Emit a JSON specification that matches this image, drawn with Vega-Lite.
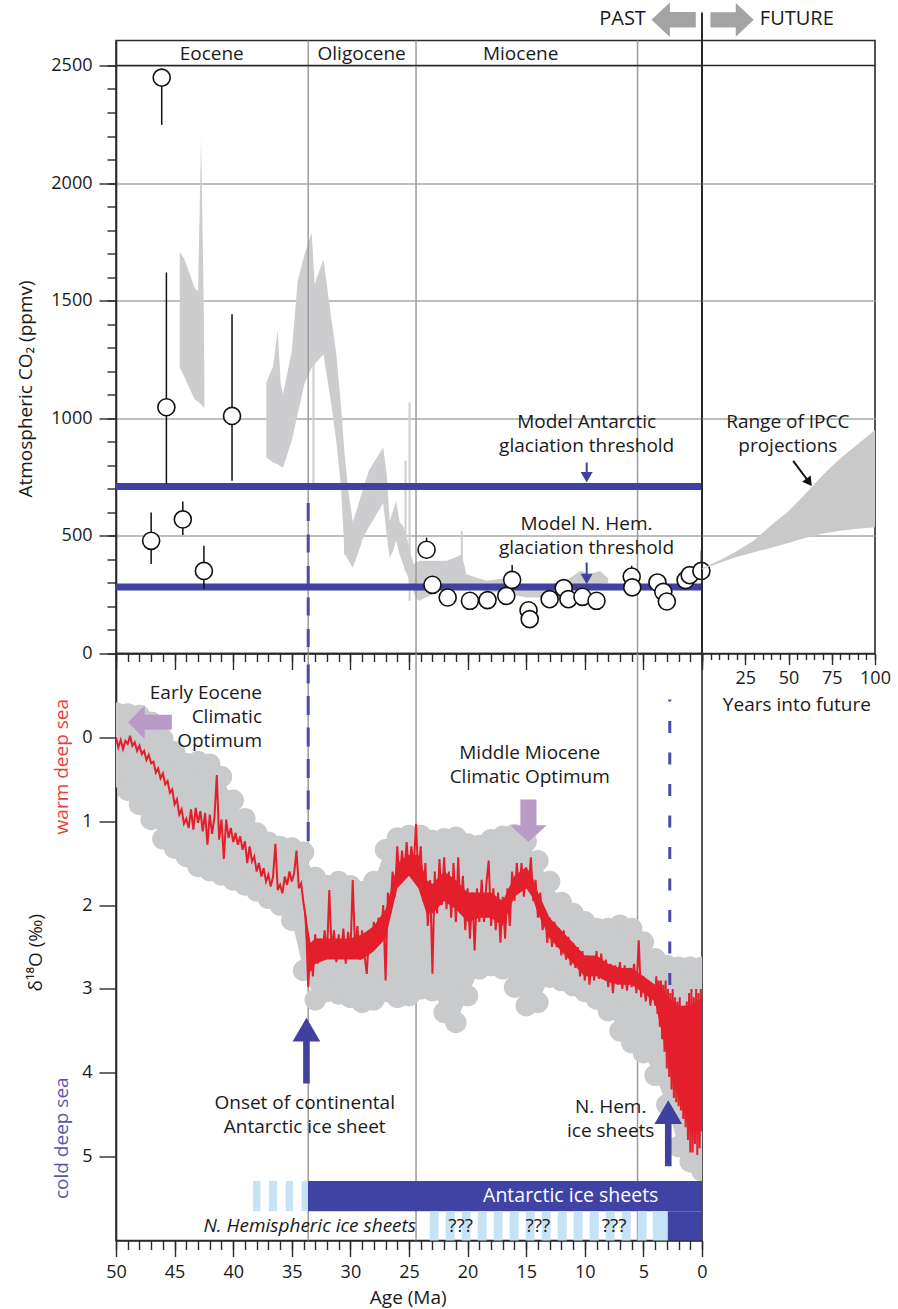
{
"$schema": "https://vega.github.io/schema/vega-lite/v6.json",
"background": "white",
"padding": {"left": 15, "top": 1.5, "right": 5, "bottom": 5},
"config": {
 "font": "Open Sans",
 "view": {"stroke": "#2a2a2a", "strokeWidth": 1.6},
 "axis": {"grid": false, "labelFont": "Open Sans", "labelFontSize": 18, "labelColor": "#1a1a1a", "titleFont": "Open Sans", "titleFontSize": 19, "titleFontWeight": "normal", "titleColor": "#1a1a1a", "domainColor": "#2a2a2a", "domainWidth": 1.6, "tickColor": "#2a2a2a", "tickWidth": 1.4, "labelFlush": false, "labelOverlap": false},
 "text": {"font": "Open Sans", "fontSize": 19, "color": "#1a1a1a"}
},
"datasets": {
 "epochs": [{"age": 33.6}, {"age": 24.4}, {"age": 5.5}],
 "co2band": [
  {"seg":"a","age":44.56,"lo":1215,"hi":1707},{"seg":"a","age":44.2,"lo":1180,"hi":1680},{"seg":"a","age":43.75,"lo":1130,"hi":1620},{"seg":"a","age":43.3,"lo":1082,"hi":1555},{"seg":"a","age":43.0,"lo":1070,"hi":1541},{"seg":"a","age":42.74,"lo":1060,"hi":2193},{"seg":"a","age":42.5,"lo":1045,"hi":1443},{"seg":"a","age":42.45,"lo":1045,"hi":1060},
  {"seg":"b","age":37.17,"lo":833,"hi":1152},{"seg":"b","age":36.6,"lo":812,"hi":1220},{"seg":"b","age":36.2,"lo":805,"hi":1374},{"seg":"b","age":35.95,"lo":795,"hi":1150},{"seg":"b","age":35.75,"lo":790,"hi":1102},{"seg":"b","age":35.0,"lo":904,"hi":1286},{"seg":"b","age":34.5,"lo":1017,"hi":1584},{"seg":"b","age":33.9,"lo":1150,"hi":1700},{"seg":"b","age":33.3,"lo":1215,"hi":1789},{"seg":"b","age":33.05,"lo":1230,"hi":1570},{"seg":"b","age":32.3,"lo":1272,"hi":1676},{"seg":"b","age":31.6,"lo":1050,"hi":1414},{"seg":"b","age":31.2,"lo":900,"hi":1272},{"seg":"b","age":30.8,"lo":705,"hi":1050},{"seg":"b","age":30.5,"lo":424,"hi":849},{"seg":"b","age":30.2,"lo":400,"hi":700},{"seg":"b","age":29.8,"lo":365,"hi":560},{"seg":"b","age":29.4,"lo":420,"hi":620},{"seg":"b","age":28.9,"lo":493,"hi":705},{"seg":"b","age":28.4,"lo":540,"hi":780},{"seg":"b","age":27.9,"lo":580,"hi":820},{"seg":"b","age":27.2,"lo":640,"hi":876},{"seg":"b","age":26.9,"lo":500,"hi":760},{"seg":"b","age":26.65,"lo":408,"hi":564},{"seg":"b","age":26.4,"lo":430,"hi":600},{"seg":"b","age":26.1,"lo":480,"hi":649},{"seg":"b","age":25.8,"lo":420,"hi":560},{"seg":"b","age":25.5,"lo":380,"hi":540},{"seg":"b","age":25.2,"lo":340,"hi":500},{"seg":"b","age":24.9,"lo":300,"hi":430},{"seg":"b","age":24.6,"lo":260,"hi":380},{"seg":"b","age":24.3,"lo":230,"hi":390},{"seg":"b","age":24.1,"lo":224,"hi":394},{"seg":"b","age":23.0,"lo":252,"hi":394},{"seg":"b","age":21.8,"lo":280,"hi":394},{"seg":"b","age":20.5,"lo":295,"hi":420},{"seg":"b","age":20.1,"lo":280,"hi":337},{"seg":"b","age":18.4,"lo":266,"hi":309},{"seg":"b","age":16.4,"lo":252,"hi":323},{"seg":"b","age":15.0,"lo":238,"hi":280},{"seg":"b","age":13.6,"lo":238,"hi":288},{"seg":"b","age":11.6,"lo":259,"hi":309},{"seg":"b","age":10.4,"lo":280,"hi":351},{"seg":"b","age":9.6,"lo":295,"hi":337},{"seg":"b","age":8.7,"lo":295,"hi":351},{"seg":"b","age":8.0,"lo":300,"hi":320}
 ],
 "co2spk": [{"age":24.95,"lo":224,"hi":1067},{"age":25.3,"lo":350,"hi":820},{"age":33.15,"lo":705,"hi":1230},{"age":20.5,"lo":295,"hi":521},{"age":30.45,"lo":420,"hi":798}],
 "co2pts": [
  {"age":47.0,"co2":479,"lo":380,"hi":599},{"age":46.1,"co2":2448,"lo":2247,"hi":2448},{"age":45.7,"co2":1047,"lo":720,"hi":1620},{"age":44.3,"co2":570,"lo":504,"hi":646},{"age":42.5,"co2":351,"lo":274,"hi":458},{"age":40.1,"co2":1010,"lo":734,"hi":1442},
  {"age":23.5,"co2":441,"lo":441,"hi":493},{"age":23.0,"co2":292,"lo":292,"hi":292},{"age":21.7,"co2":238,"lo":238,"hi":238},{"age":19.8,"co2":224,"lo":224,"hi":224},{"age":18.3,"co2":227,"lo":227,"hi":227},{"age":16.7,"co2":245,"lo":245,"hi":245},{"age":16.2,"co2":313,"lo":313,"hi":376},{"age":14.8,"co2":184,"lo":184,"hi":184},{"age":14.7,"co2":146,"lo":146,"hi":146},{"age":13.0,"co2":231,"lo":231,"hi":231},{"age":11.8,"co2":278,"lo":278,"hi":278},{"age":11.4,"co2":231,"lo":231,"hi":231},{"age":10.2,"co2":241,"lo":241,"hi":241},{"age":9.0,"co2":224,"lo":224,"hi":224},{"age":6.0,"co2":327,"lo":327,"hi":373},{"age":5.95,"co2":281,"lo":281,"hi":281},{"age":3.8,"co2":302,"lo":302,"hi":302},{"age":3.3,"co2":262,"lo":262,"hi":262},{"age":3.0,"co2":221,"lo":221,"hi":221},{"age":1.4,"co2":312,"lo":290,"hi":312},{"age":1.05,"co2":333,"lo":333,"hi":333},{"age":0.05,"co2":351,"lo":351,"hi":437}
 ],
 "topText": [
  {"t":"Eocene","age":41.83,"co2":2549},{"t":"Oligocene","age":29.04,"co2":2549},{"t":"Miocene","age":15.47,"co2":2549},
  {"t":"Model Antarctic\nglaciation threshold","age":9.84,"co2":986},{"t":"Model N. Hem.\nglaciation threshold","age":9.86,"co2":550}
 ],
 "ipcc": [{"yr":0,"lo":358,"hi":362},{"yr":10,"lo":385,"hi":395},{"yr":20,"lo":410,"hi":435},{"yr":30,"lo":430,"hi":480},{"yr":40,"lo":450,"hi":545},{"yr":50,"lo":470,"hi":605},{"yr":60,"lo":492,"hi":680},{"yr":70,"lo":510,"hi":760},{"yr":80,"lo":522,"hi":830},{"yr":90,"lo":530,"hi":890},{"yr":100,"lo":537,"hi":950}],
 "env": [
  {"a":50,"t":-0.29,"b":0.47},{"a":49,"t":-0.28,"b":0.63},{"a":48,"t":-0.26,"b":0.80},{"a":47,"t":-0.18,"b":0.98},{"a":46,"t":0.02,"b":1.21},{"a":45,"t":0.17,"b":1.32},{"a":44,"t":0.31,"b":1.42},{"a":43,"t":0.29,"b":1.54},{"a":42,"t":0.32,"b":1.59},{"a":41,"t":0.47,"b":1.64},{"a":40,"t":0.75,"b":1.70},{"a":39,"t":0.97,"b":1.76},{"a":38,"t":1.14,"b":1.83},{"a":37,"t":1.25,"b":1.92},{"a":36,"t":1.30,"b":2.00},{"a":35,"t":1.32,"b":2.18},{"a":34,"t":1.37,"b":2.78},{"a":33,"t":1.67,"b":3.13},{"a":32,"t":1.77,"b":3.03},{"a":31,"t":1.72,"b":3.06},{"a":30,"t":1.77,"b":3.10},{"a":29,"t":1.84,"b":3.16},{"a":28,"t":1.72,"b":3.13},{"a":27,"t":1.34,"b":3.03},{"a":26,"t":1.20,"b":3.10},{"a":25,"t":1.17,"b":3.08},{"a":24,"t":1.17,"b":3.00},{"a":23,"t":1.23,"b":3.02},{"a":22,"t":1.21,"b":3.28},{"a":21,"t":1.19,"b":3.40},{"a":20,"t":1.27,"b":3.08},{"a":19,"t":1.29,"b":2.76},{"a":18,"t":1.22,"b":2.72},{"a":17,"t":1.18,"b":2.76},{"a":16,"t":1.16,"b":2.98},{"a":15,"t":1.24,"b":3.20},{"a":14,"t":1.47,"b":3.16},{"a":13,"t":1.72,"b":2.86},{"a":12,"t":1.97,"b":2.90},{"a":11,"t":2.10,"b":2.96},{"a":10,"t":2.20,"b":3.03},{"a":9,"t":2.28,"b":3.12},{"a":8,"t":2.28,"b":3.26},{"a":7,"t":2.24,"b":3.50},{"a":6,"t":2.28,"b":3.64},{"a":5,"t":2.44,"b":3.76},{"a":4,"t":2.64,"b":4.03},{"a":3,"t":2.72,"b":4.38},{"a":2,"t":2.74,"b":4.88},{"a":1,"t":2.74,"b":5.06},{"a":0,"t":2.74,"b":5.17}
 ],
 "redcore": [
  {"a":34.0,"lo":1.92,"hi":2.0},{"a":33.7,"lo":2.2,"hi":2.6},{"a":33.4,"lo":2.45,"hi":2.8},{"a":33.0,"lo":2.4,"hi":2.7},{"a":32.0,"lo":2.4,"hi":2.65},{"a":31.0,"lo":2.4,"hi":2.65},{"a":30.0,"lo":2.4,"hi":2.65},{"a":29.0,"lo":2.35,"hi":2.65},{"a":28.0,"lo":2.25,"hi":2.55},{"a":27.0,"lo":2.05,"hi":2.4},{"a":26.5,"lo":1.8,"hi":2.1},{"a":26.0,"lo":1.5,"hi":1.8},{"a":25.0,"lo":1.4,"hi":1.65},{"a":24.2,"lo":1.4,"hi":1.8},{"a":23.5,"lo":1.7,"hi":2.1},{"a":23.0,"lo":1.75,"hi":2.1},{"a":22.0,"lo":1.6,"hi":1.95},{"a":21.0,"lo":1.7,"hi":2.05},{"a":20.0,"lo":1.85,"hi":2.2},{"a":19.0,"lo":1.85,"hi":2.15},{"a":18.0,"lo":1.85,"hi":2.15},{"a":17.0,"lo":1.95,"hi":2.25},{"a":16.0,"lo":1.65,"hi":1.9},{"a":15.0,"lo":1.55,"hi":1.8},{"a":14.5,"lo":1.65,"hi":1.9},{"a":14.0,"lo":1.85,"hi":2.1},{"a":13.0,"lo":2.15,"hi":2.4},{"a":12.0,"lo":2.3,"hi":2.55},{"a":11.0,"lo":2.45,"hi":2.7},{"a":10.0,"lo":2.6,"hi":2.85},{"a":9.0,"lo":2.6,"hi":2.85},{"a":8.0,"lo":2.7,"hi":2.92},{"a":7.0,"lo":2.75,"hi":2.95},{"a":6.0,"lo":2.75,"hi":2.95},{"a":5.0,"lo":2.85,"hi":3.05},{"a":4.0,"lo":2.95,"hi":3.15},{"a":3.0,"lo":3.1,"hi":3.8},{"a":2.0,"lo":3.2,"hi":4.3},{"a":1.0,"lo":3.2,"hi":4.7},{"a":0.0,"lo":3.1,"hi":4.7}
 ],
 "d18": [
  {"a":50.0,"d":0.0},{"a":49.8,"d":0.12},{"a":49.6,"d":0.03},{"a":49.4,"d":0.14},{"a":49.2,"d":0.04},{"a":49.0,"d":0.08},{"a":48.8,"d":-0.02},{"a":48.6,"d":0.1},{"a":48.4,"d":0.06},{"a":48.2,"d":0.16},{"a":48.0,"d":0.1},{"a":47.8,"d":0.2},{"a":47.6,"d":0.16},{"a":47.4,"d":0.27},{"a":47.2,"d":0.21},{"a":47.0,"d":0.31},{"a":46.8,"d":0.29},{"a":46.6,"d":0.42},{"a":46.4,"d":0.37},{"a":46.2,"d":0.49},{"a":46.0,"d":0.43},{"a":45.8,"d":0.56},{"a":45.6,"d":0.52},{"a":45.4,"d":0.66},{"a":45.2,"d":0.62},{"a":45.0,"d":0.8},{"a":44.8,"d":0.74},{"a":44.6,"d":0.92},{"a":44.4,"d":0.86},{"a":44.2,"d":1.03},{"a":44.0,"d":0.97},{"a":43.8,"d":1.08},{"a":43.6,"d":0.86},{"a":43.4,"d":1.1},{"a":43.2,"d":0.84},{"a":43.0,"d":1.02},{"a":42.8,"d":0.88},{"a":42.6,"d":1.12},{"a":42.4,"d":0.9},{"a":42.2,"d":1.28},{"a":42.0,"d":0.92},{"a":41.8,"d":1.15},{"a":41.6,"d":0.95},{"a":41.4,"d":0.45},{"a":41.2,"d":1.22},{"a":41.0,"d":0.98},{"a":40.8,"d":1.45},{"a":40.6,"d":0.98},{"a":40.4,"d":1.2},{"a":40.2,"d":1.08},{"a":40.0,"d":1.25},{"a":39.8,"d":1.14},{"a":39.6,"d":1.28},{"a":39.4,"d":1.18},{"a":39.2,"d":1.34},{"a":39.0,"d":1.24},{"a":38.8,"d":1.5},{"a":38.6,"d":1.3},{"a":38.4,"d":1.48},{"a":38.2,"d":1.42},{"a":38.0,"d":1.6},{"a":37.8,"d":1.5},{"a":37.6,"d":1.66},{"a":37.4,"d":1.56},{"a":37.2,"d":1.72},{"a":37.0,"d":1.64},{"a":36.8,"d":1.78},{"a":36.6,"d":1.66},{"a":36.4,"d":1.27},{"a":36.2,"d":1.82},{"a":36.0,"d":1.76},{"a":35.8,"d":1.86},{"a":35.6,"d":1.66},{"a":35.4,"d":1.76},{"a":35.2,"d":1.6},{"a":35.0,"d":1.72},{"a":34.8,"d":1.62},{"a":34.6,"d":1.35},{"a":34.4,"d":1.8},{"a":34.2,"d":1.74},{"a":34.0,"d":1.98},{"a":33.8,"d":2.15},{"a":33.6,"d":2.98},{"a":33.4,"d":2.45},{"a":33.2,"d":2.85},{"a":33.0,"d":2.35},{"a":32.8,"d":2.7},{"a":32.6,"d":2.4},{"a":32.4,"d":2.62},{"a":32.2,"d":2.3},{"a":32.0,"d":2.6},{"a":31.8,"d":1.82},{"a":31.6,"d":2.55},{"a":31.4,"d":2.3},{"a":31.2,"d":2.68},{"a":31.0,"d":2.35},{"a":30.8,"d":2.62},{"a":30.6,"d":2.28},{"a":30.4,"d":2.7},{"a":30.2,"d":2.32},{"a":30.0,"d":2.58},{"a":29.8,"d":1.7},{"a":29.6,"d":2.55},{"a":29.4,"d":2.25},{"a":29.2,"d":2.65},{"a":29.0,"d":2.3},{"a":28.8,"d":2.6},{"a":28.6,"d":2.82},{"a":28.4,"d":2.3},{"a":28.2,"d":2.55},{"a":28.0,"d":2.2},{"a":27.8,"d":2.5},{"a":27.6,"d":2.15},{"a":27.4,"d":2.45},{"a":27.2,"d":2.0},{"a":27.0,"d":2.9},{"a":26.8,"d":1.85},{"a":26.6,"d":2.1},{"a":26.4,"d":1.6},{"a":26.2,"d":1.9},{"a":26.0,"d":1.3},{"a":25.8,"d":1.75},{"a":25.6,"d":1.35},{"a":25.4,"d":1.6},{"a":25.2,"d":1.25},{"a":25.0,"d":1.65},{"a":24.8,"d":1.3},{"a":24.6,"d":1.55},{"a":24.4,"d":1.03},{"a":24.2,"d":1.7},{"a":24.0,"d":1.3},{"a":23.8,"d":1.95},{"a":23.6,"d":1.5},{"a":23.4,"d":2.25},{"a":23.2,"d":1.7},{"a":23.0,"d":2.82},{"a":22.8,"d":1.6},{"a":22.6,"d":2.1},{"a":22.4,"d":1.45},{"a":22.2,"d":2.0},{"a":22.0,"d":1.43},{"a":21.8,"d":2.05},{"a":21.6,"d":1.6},{"a":21.4,"d":2.15},{"a":21.2,"d":1.5},{"a":21.0,"d":2.2},{"a":20.8,"d":1.43},{"a":20.6,"d":2.1},{"a":20.4,"d":1.65},{"a":20.2,"d":2.3},{"a":20.0,"d":1.8},{"a":19.8,"d":2.4},{"a":19.6,"d":1.85},{"a":19.4,"d":2.54},{"a":19.2,"d":1.8},{"a":19.0,"d":2.2},{"a":18.8,"d":1.7},{"a":18.6,"d":2.2},{"a":18.4,"d":1.75},{"a":18.2,"d":1.47},{"a":18.0,"d":2.25},{"a":17.8,"d":1.8},{"a":17.6,"d":2.3},{"a":17.4,"d":1.85},{"a":17.2,"d":2.45},{"a":17.0,"d":1.9},{"a":16.8,"d":2.4},{"a":16.6,"d":1.8},{"a":16.4,"d":2.25},{"a":16.2,"d":1.6},{"a":16.0,"d":1.95},{"a":15.8,"d":1.5},{"a":15.6,"d":1.85},{"a":15.4,"d":1.5},{"a":15.2,"d":1.9},{"a":15.0,"d":1.55},{"a":14.8,"d":1.8},{"a":14.6,"d":1.43},{"a":14.4,"d":1.95},{"a":14.2,"d":1.7},{"a":14.0,"d":2.15},{"a":13.8,"d":1.85},{"a":13.6,"d":2.3},{"a":13.4,"d":2.05},{"a":13.2,"d":2.45},{"a":13.0,"d":2.15},{"a":12.8,"d":2.5},{"a":12.6,"d":2.2},{"a":12.4,"d":2.5},{"a":12.2,"d":2.28},{"a":12.0,"d":2.6},{"a":11.8,"d":2.3},{"a":11.6,"d":2.65},{"a":11.4,"d":2.38},{"a":11.2,"d":2.72},{"a":11.0,"d":2.45},{"a":10.8,"d":2.75},{"a":10.6,"d":2.5},{"a":10.4,"d":2.85},{"a":10.2,"d":2.55},{"a":10.0,"d":2.9},{"a":9.8,"d":2.6},{"a":9.6,"d":2.95},{"a":9.4,"d":2.62},{"a":9.2,"d":2.9},{"a":9.0,"d":2.55},{"a":8.8,"d":2.88},{"a":8.6,"d":2.58},{"a":8.4,"d":2.85},{"a":8.2,"d":2.65},{"a":8.0,"d":2.98},{"a":7.8,"d":2.7},{"a":7.6,"d":3.05},{"a":7.4,"d":2.72},{"a":7.2,"d":2.95},{"a":7.0,"d":2.68},{"a":6.8,"d":3.0},{"a":6.6,"d":2.72},{"a":6.4,"d":3.02},{"a":6.2,"d":2.75},{"a":6.0,"d":2.98},{"a":5.8,"d":2.7},{"a":5.6,"d":3.05},{"a":5.4,"d":2.42},{"a":5.2,"d":3.1},{"a":5.0,"d":2.85},{"a":4.8,"d":3.15},{"a":4.6,"d":2.9},{"a":4.4,"d":3.2},{"a":4.2,"d":2.95},
  {"a":4.0,"d":3.2},{"a":3.9,"d":2.85},{"a":3.8,"d":3.3},{"a":3.7,"d":2.9},{"a":3.6,"d":3.45},{"a":3.5,"d":2.9},{"a":3.4,"d":3.6},{"a":3.3,"d":2.95},{"a":3.2,"d":3.75},{"a":3.1,"d":2.9},{"a":3.0,"d":3.95},{"a":2.9,"d":3.0},{"a":2.8,"d":4.05},{"a":2.7,"d":3.05},{"a":2.6,"d":4.2},{"a":2.5,"d":3.0},{"a":2.4,"d":4.3},{"a":2.3,"d":3.1},{"a":2.2,"d":4.35},{"a":2.1,"d":3.15},{"a":2.0,"d":4.4},{"a":1.9,"d":3.1},{"a":1.8,"d":4.45},{"a":1.7,"d":3.25},{"a":1.6,"d":4.55},{"a":1.5,"d":3.2},{"a":1.4,"d":4.65},{"a":1.3,"d":3.15},{"a":1.2,"d":4.8},{"a":1.1,"d":3.05},{"a":1.0,"d":4.95},{"a":0.9,"d":3.0},{"a":0.8,"d":4.95},{"a":0.7,"d":3.1},{"a":0.6,"d":4.85},{"a":0.5,"d":3.0},{"a":0.4,"d":4.98},{"a":0.3,"d":3.05},{"a":0.2,"d":4.9},{"a":0.1,"d":3.0},{"a":0.0,"d":4.1}
 ],
 "bars": [
  {"row":"ant","k":"stripe","a0":38.31,"a1":37.68},{"row":"ant","k":"stripe","a0":36.95,"a1":36.26},{"row":"ant","k":"stripe","a0":35.52,"a1":34.9},{"row":"ant","k":"stripe","a0":34.16,"a1":33.62},{"row":"ant","k":"solid","a0":33.62,"a1":0},
  {"row":"nh","k":"stripe","a0":23.23,"a1":22.47},{"row":"nh","k":"stripe","a0":21.87,"a1":21.1},{"row":"nh","k":"stripe","a0":20.5,"a1":19.74},{"row":"nh","k":"stripe","a0":19.14,"a1":18.37},{"row":"nh","k":"stripe","a0":17.77,"a1":17.01},{"row":"nh","k":"stripe","a0":16.41,"a1":15.64},{"row":"nh","k":"stripe","a0":15.04,"a1":14.28},{"row":"nh","k":"stripe","a0":13.68,"a1":12.91},{"row":"nh","k":"stripe","a0":12.31,"a1":11.54},{"row":"nh","k":"stripe","a0":10.95,"a1":10.18},{"row":"nh","k":"stripe","a0":9.58,"a1":8.81},{"row":"nh","k":"stripe","a0":8.22,"a1":7.45},{"row":"nh","k":"stripe","a0":6.85,"a1":6.08},{"row":"nh","k":"stripe","a0":5.49,"a1":4.72},{"row":"nh","k":"stripe","a0":4.2,"a1":2.92},{"row":"nh","k":"solid","a0":2.92,"a1":0}
 ]
},
"columns": 2,
"spacing": 0,
"bounds": "flush",
"concat": [
 {
  "width": 586, "height": 613,
  "resolve": {"axis": {"x": "independent", "y": "independent"}},
  "layer": [
   {"data": {"name": "co2band"}, "mark": {"type": "area", "color": "#cdcdd0"},
    "encoding": {
     "x": {"field": "age", "type": "quantitative", "scale": {"domain": [0, 50], "reverse": true, "nice": false, "zero": false},
           "axis": {"orient": "bottom", "values": [0,5,10,15,20,25,30,35,40,45,50], "tickSize": 16, "labels": false, "title": null}},
     "y": {"field": "lo", "type": "quantitative", "scale": {"domain": [0, 2606], "nice": false, "zero": false},
           "axis": {"orient": "left", "values": [0,500,1000,1500,2000,2500], "format": "d", "tickSize": 17, "labelPadding": 7, "grid": true, "gridColor": "#a9a9a9", "gridWidth": 1.5, "title": "Atmospheric CO₂ (ppmv)", "titleX": -90.3, "titleY": 348, "titleBaseline": "middle", "titleAngle": 270}},
     "y2": {"field": "hi"},
     "detail": {"field": "seg", "type": "nominal"}
    }},
   {"data": {"name": "co2spk"}, "mark": {"type": "rule", "color": "#cdcdd0", "strokeWidth": 2},
    "encoding": {
     "x": {"field": "age", "type": "quantitative", "axis": {"orient": "bottom", "values": [0,1,2,3,4,5,6,7,8,9,10,11,12,13,14,15,16,17,18,19,20,21,22,23,24,25,26,27,28,29,30,31,32,33,34,35,36,37,38,39,40,41,42,43,44,45,46,47,48,49,50], "tickSize": 8, "labels": false, "title": null, "domain": false}},
     "y": {"field": "lo", "type": "quantitative", "axis": {"orient": "left", "values": [0,100,200,300,400,500,600,700,800,900,1000,1100,1200,1300,1400,1500,1600,1700,1800,1900,2000,2100,2200,2300,2400,2500], "tickSize": 9, "labels": false, "title": null, "domain": false}},
     "y2": {"field": "hi"}
    }},
   {"data": {"name": "epochs"}, "mark": {"type": "rule", "color": "#9b9b9b", "strokeWidth": 1.5},
    "encoding": {"x": {"field": "age", "type": "quantitative", "axis": null}}},
   {"data": {"values": [{"co2": 710}, {"co2": 283}]}, "mark": {"type": "rule", "color": "#41419f", "strokeWidth": 7},
    "encoding": {"y": {"field": "co2", "type": "quantitative", "axis": null}}},
   {"data": {"values": [{"age": 33.6, "top": 640, "bot": 0}]}, "mark": {"type": "rule", "color": "#4a4aa8", "strokeWidth": 3, "strokeDash": [18, 13.5]},
    "encoding": {"x": {"field": "age", "type": "quantitative", "axis": null}, "y": {"field": "top", "type": "quantitative", "axis": null}, "y2": {"field": "bot"}}},
   {"data": {"name": "co2pts"}, "mark": {"type": "rule", "color": "#111111", "strokeWidth": 1.5},
    "encoding": {"x": {"field": "age", "type": "quantitative", "axis": null}, "y": {"field": "lo", "type": "quantitative", "axis": null}, "y2": {"field": "hi"}}},
   {"data": {"name": "co2pts"}, "mark": {"type": "point", "shape": "circle", "filled": true, "fill": "white", "stroke": "#111111", "strokeWidth": 1.6, "size": 290, "opacity": 1},
    "encoding": {"x": {"field": "age", "type": "quantitative", "axis": null}, "y": {"field": "co2", "type": "quantitative", "axis": null}}},
   {"data": {"values": [{"co2": 2500}]}, "mark": {"type": "rule", "color": "#2a2a2a", "strokeWidth": 1.6},
    "encoding": {"y": {"field": "co2", "type": "quantitative", "axis": null}}},
   {"data": {"values": [{"age": 0, "lo": 0, "hi": 2725}]}, "mark": {"type": "rule", "color": "#2a2a2a", "strokeWidth": 2},
    "encoding": {"x": {"field": "age", "type": "quantitative", "axis": null}, "y": {"field": "lo", "type": "quantitative", "axis": null}, "y2": {"field": "hi"}}},
   {"data": {"name": "topText"}, "mark": {"type": "text", "align": "center", "baseline": "middle", "lineBreak": "\n", "lineHeight": 24},
    "encoding": {"x": {"field": "age", "type": "quantitative", "axis": null}, "y": {"field": "co2", "type": "quantitative", "axis": null}, "text": {"field": "t", "type": "nominal"}}},
   {"data": {"values": [{"age": 9.84, "s0": 812, "s1": 752}, {"age": 9.84, "s0": 387, "s1": 320}]}, "mark": {"type": "rule", "color": "#41419f", "strokeWidth": 2},
    "encoding": {"x": {"field": "age", "type": "quantitative", "axis": null}, "y": {"field": "s0", "type": "quantitative", "axis": null}, "y2": {"field": "s1"}}},
   {"data": {"values": [{"age": 9.84, "co2": 749}, {"age": 9.84, "co2": 317}]}, "mark": {"type": "point", "shape": "triangle-down", "filled": true, "size": 144, "color": "#41419f", "opacity": 1},
    "encoding": {"x": {"field": "age", "type": "quantitative", "axis": null}, "y": {"field": "co2", "type": "quantitative", "axis": null}}},
   {"data": {"values": [{"t": "PAST", "age": 6.78, "co2": 2696}]}, "mark": {"type": "text", "align": "center", "baseline": "middle", "fontSize": 20},
    "encoding": {"x": {"field": "age", "type": "quantitative", "axis": null}, "y": {"field": "co2", "type": "quantitative", "axis": null}, "text": {"field": "t", "type": "nominal"}}},
   {"data": {"values": [{"age": 2.42, "co2": 2694}]}, "mark": {"type": "point", "shape": "M -1 0 L -0.17 -0.78 L -0.17 -0.35 L 1 -0.35 L 1 0.35 L -0.17 0.35 L -0.17 0.78 Z", "filled": true, "size": 1962, "color": "#a3a3a3", "opacity": 1, "strokeWidth": 0},
    "encoding": {"x": {"field": "age", "type": "quantitative", "axis": null}, "y": {"field": "co2", "type": "quantitative", "axis": null}}}
  ]
 },
 {
  "width": 173, "height": 613,
  "resolve": {"axis": {"x": "independent", "y": "independent"}},
  "layer": [
   {"data": {"name": "ipcc"}, "mark": {"type": "area", "color": "#c9c9c9"},
    "encoding": {
     "x": {"field": "yr", "type": "quantitative", "scale": {"domain": [0, 100], "nice": false, "zero": false},
           "axis": {"orient": "bottom", "values": [0,25,50,75,100], "tickSize": 11, "labelPadding": 5, "labelExpr": "datum.value == 0 ? '' : datum.label", "title": "Years into future", "titleX": 94.4, "titleY": 51, "titleBaseline": "middle"}},
     "y": {"field": "lo", "type": "quantitative", "scale": {"domain": [0, 2606], "nice": false, "zero": false},
           "axis": {"orient": "left", "values": [500,1000,1500,2000], "grid": true, "gridColor": "#a9a9a9", "gridWidth": 1.5, "labels": false, "ticks": false, "domain": false, "title": null}},
     "y2": {"field": "hi"}
    }},
   {"data": {"values": [{"yr": 52.7, "co2": 819, "yr2": 61.9, "co22": 728}]}, "mark": {"type": "rule", "color": "#111111", "strokeWidth": 2},
    "encoding": {
     "x": {"field": "yr", "type": "quantitative", "axis": {"orient": "bottom", "values": [0,5,10,15,20,25,30,35,40,45,50,55,60,65,70,75,80,85,90,95,100], "tickSize": 6, "labels": false, "title": null, "domain": false}},
     "x2": {"field": "yr2"},
     "y": {"field": "co2", "type": "quantitative", "axis": null},
     "y2": {"field": "co22"}
    }},
   {"data": {"values": [{"yr": 61.9, "co2": 728}]}, "mark": {"type": "point", "shape": "triangle-down", "angle": 324, "filled": true, "size": 110, "color": "#111111", "opacity": 1},
    "encoding": {"x": {"field": "yr", "type": "quantitative", "axis": null}, "y": {"field": "co2", "type": "quantitative", "axis": null}}},
   {"data": {"values": [{"co2": 2500}]}, "mark": {"type": "rule", "color": "#2a2a2a", "strokeWidth": 1.6},
    "encoding": {"y": {"field": "co2", "type": "quantitative", "axis": null}}},
   {"data": {"values": [{"t": "Range of IPCC\nprojections", "yr": 49.6, "co2": 986}]}, "mark": {"type": "text", "align": "center", "baseline": "middle", "lineBreak": "\n", "lineHeight": 24},
    "encoding": {"x": {"field": "yr", "type": "quantitative", "axis": null}, "y": {"field": "co2", "type": "quantitative", "axis": null}, "text": {"field": "t", "type": "nominal"}}},
   {"data": {"values": [{"t": "FUTURE", "yr": 54.8, "co2": 2696}]}, "mark": {"type": "text", "align": "center", "baseline": "middle", "fontSize": 20},
    "encoding": {"x": {"field": "yr", "type": "quantitative", "axis": null}, "y": {"field": "co2", "type": "quantitative", "axis": null}, "text": {"field": "t", "type": "nominal"}}},
   {"data": {"values": [{"yr": 17.4, "co2": 2694}]}, "mark": {"type": "point", "shape": "M 1 0 L 0.17 -0.78 L 0.17 -0.35 L -1 -0.35 L -1 0.35 L 0.17 0.35 L 0.17 0.78 Z", "filled": true, "size": 1876, "color": "#a3a3a3", "opacity": 1, "strokeWidth": 0},
    "encoding": {"x": {"field": "yr", "type": "quantitative", "axis": null}, "y": {"field": "co2", "type": "quantitative", "axis": null}}}
  ]
 },
 {
  "width": 586, "height": 587,
  "resolve": {"axis": {"x": "independent", "y": "independent"}},
  "layer": [
   {"data": {"name": "epochs"}, "mark": {"type": "rule", "color": "#9b9b9b", "strokeWidth": 1.5},
    "encoding": {"x": {"field": "age", "type": "quantitative", "scale": {"domain": [0, 50], "reverse": true, "nice": false, "zero": false},
     "axis": {"orient": "bottom", "values": [0,1,2,3,4,5,6,7,8,9,10,11,12,13,14,15,16,17,18,19,20,21,22,23,24,25,26,27,28,29,30,31,32,33,34,35,36,37,38,39,40,41,42,43,44,45,46,47,48,49,50], "tickSize": 9, "labels": false, "title": null, "domain": false}}}},
   {"data": {"name": "env"}, "mark": {"type": "area", "color": "#c9cacc", "clip": true},
    "encoding": {
     "x": {"field": "a", "type": "quantitative", "axis": {"orient": "bottom", "values": [0,5,10,15,20,25,30,35,40,45,50], "tickSize": 16, "labelPadding": 7, "title": "Age (Ma)", "titleX": 291.7, "titleY": 57.4, "titleBaseline": "middle"}},
     "y": {"field": "t", "type": "quantitative", "scale": {"domain": [-1, 6], "reverse": true, "nice": false, "zero": false},
           "axis": {"orient": "left", "values": [0,1,2,3,4,5], "tickSize": 17, "labelPadding": 7, "title": "δ¹⁸O (‰)", "titleX": -80.3, "titleY": 298.7, "titleBaseline": "middle", "titleAngle": 270}},
     "y2": {"field": "b"}
    }},
   {"data": {"name": "env"}, "mark": {"type": "point", "shape": "circle", "filled": true, "color": "#c9cacc", "size": 460, "opacity": 1, "clip": true},
    "encoding": {"x": {"field": "a", "type": "quantitative", "axis": null}, "y": {"field": "t", "type": "quantitative", "axis": null}}},
   {"data": {"name": "env"}, "mark": {"type": "point", "shape": "circle", "filled": true, "color": "#c9cacc", "size": 460, "opacity": 1, "clip": true},
    "encoding": {"x": {"field": "a", "type": "quantitative", "axis": null}, "y": {"field": "b", "type": "quantitative", "axis": null}}},
   {"data": {"name": "redcore"}, "mark": {"type": "area", "color": "#e41f2c", "clip": true},
    "encoding": {"x": {"field": "a", "type": "quantitative", "axis": null}, "y": {"field": "lo", "type": "quantitative", "axis": null}, "y2": {"field": "hi"}}},
   {"data": {"name": "d18"}, "mark": {"type": "line", "color": "#e41f2c", "strokeWidth": 2, "clip": true},
    "encoding": {"x": {"field": "a", "type": "quantitative", "axis": null}, "y": {"field": "d", "type": "quantitative", "axis": null}}},
   {"data": {"values": [{"a": 33.6, "top": -1, "bot": 1.25}]}, "mark": {"type": "rule", "color": "#4a4aa8", "strokeWidth": 3, "strokeDash": [19, 12.5], "strokeDashOffset": 20.5},
    "encoding": {"x": {"field": "a", "type": "quantitative", "axis": null}, "y": {"field": "top", "type": "quantitative", "axis": null}, "y2": {"field": "bot"}}},
   {"data": {"values": [{"a": 2.75, "top": -0.45, "bot": 3.0}]}, "mark": {"type": "rule", "color": "#4a4aa8", "strokeWidth": 3, "strokeDash": [12, 19.5], "strokeDashOffset": 10},
    "encoding": {"x": {"field": "a", "type": "quantitative", "axis": null}, "y": {"field": "top", "type": "quantitative", "axis": null}, "y2": {"field": "bot"}}},
   {"data": {"name": "bars"}, "transform": [{"filter": "datum.row == 'ant'"}], "mark": {"type": "rect"},
    "encoding": {"x": {"field": "a0", "type": "quantitative", "axis": null}, "x2": {"field": "a1"}, "y": {"datum": 5.29, "axis": null}, "y2": {"datum": 5.65},
     "color": {"field": "k", "type": "nominal", "scale": {"domain": ["solid", "stripe"], "range": ["#3f44a4", "#c6e2f5"]}, "legend": null}}},
   {"data": {"name": "bars"}, "transform": [{"filter": "datum.row == 'nh'"}], "mark": {"type": "rect"},
    "encoding": {"x": {"field": "a0", "type": "quantitative", "axis": null}, "x2": {"field": "a1"}, "y": {"datum": 5.65, "axis": null}, "y2": {"datum": 6.0},
     "color": {"field": "k", "type": "nominal", "scale": {"domain": ["solid", "stripe"], "range": ["#3f44a4", "#c6e2f5"]}, "legend": null}}},
   {"data": {"values": [{"t": "Middle Miocene\nClimatic Optimum", "a": 14.7, "d": 0.191}, {"t": "Onset of continental\nAntarctic ice sheet", "a": 33.9, "d": 4.361}, {"t": "N. Hem.\nice sheets", "a": 7.79, "d": 4.413}]},
    "mark": {"type": "text", "align": "center", "baseline": "middle", "lineBreak": "\n", "lineHeight": 24},
    "encoding": {"x": {"field": "a", "type": "quantitative", "axis": null}, "y": {"field": "d", "type": "quantitative", "axis": null}, "text": {"field": "t", "type": "nominal"}}},
   {"data": {"values": [{"t": "Early Eocene\nClimatic\nOptimum", "a": 37.54, "d": -0.526}]},
    "mark": {"type": "text", "align": "right", "baseline": "middle", "lineBreak": "\n", "lineHeight": 24},
    "encoding": {"x": {"field": "a", "type": "quantitative", "axis": null}, "y": {"field": "d", "type": "quantitative", "axis": null}, "text": {"field": "t", "type": "nominal"}}},
   {"data": {"values": [{"t": "Antarctic ice sheets", "a": 11.2, "d": 5.47}]},
    "mark": {"type": "text", "align": "center", "baseline": "middle", "color": "white", "fontSize": 19.5},
    "encoding": {"x": {"field": "a", "type": "quantitative", "axis": null}, "y": {"field": "d", "type": "quantitative", "axis": null}, "text": {"field": "t", "type": "nominal"}}},
   {"data": {"values": [{"t": "N. Hemispheric ice sheets", "a": 33.47, "d": 5.83}]},
    "mark": {"type": "text", "align": "center", "baseline": "middle", "fontStyle": "italic"},
    "encoding": {"x": {"field": "a", "type": "quantitative", "axis": null}, "y": {"field": "d", "type": "quantitative", "axis": null}, "text": {"field": "t", "type": "nominal"}}},
   {"data": {"values": [{"t": "???", "a": 20.6, "d": 5.83}, {"t": "???", "a": 14.0, "d": 5.83}, {"t": "???", "a": 7.5, "d": 5.83}]},
    "mark": {"type": "text", "align": "center", "baseline": "middle"},
    "encoding": {"x": {"field": "a", "type": "quantitative", "axis": null}, "y": {"field": "d", "type": "quantitative", "axis": null}, "text": {"field": "t", "type": "nominal"}}},
   {"data": {"values": [{"t": "warm deep sea", "a": 54.61, "d": 0.35}]},
    "mark": {"type": "text", "align": "center", "baseline": "middle", "angle": 270, "color": "#e5403e"},
    "encoding": {"x": {"field": "a", "type": "quantitative", "axis": null}, "y": {"field": "d", "type": "quantitative", "axis": null}, "text": {"field": "t", "type": "nominal"}}},
   {"data": {"values": [{"t": "cold deep sea", "a": 54.63, "d": 4.78}]},
    "mark": {"type": "text", "align": "center", "baseline": "middle", "angle": 270, "color": "#5656b0"},
    "encoding": {"x": {"field": "a", "type": "quantitative", "axis": null}, "y": {"field": "d", "type": "quantitative", "axis": null}, "text": {"field": "t", "type": "nominal"}}},
   {"data": {"values": [{"a": 47.1, "d": -0.18}]}, "mark": {"type": "point", "shape": "M -1 0 L -0.24 -0.78 L -0.24 -0.34 L 1 -0.34 L 1 0.34 L -0.24 0.34 L -0.24 0.78 Z", "filled": true, "size": 1910, "color": "#b89bc7", "opacity": 1, "strokeWidth": 0},
    "encoding": {"x": {"field": "a", "type": "quantitative", "axis": null}, "y": {"field": "d", "type": "quantitative", "axis": null}}},
   {"data": {"values": [{"a": 14.81, "d": 0.994}]}, "mark": {"type": "point", "shape": "M 0 1 L 0.86 0.21 L 0.38 0.21 L 0.38 -1 L -0.38 -1 L -0.38 0.21 L -0.86 0.21 Z", "filled": true, "size": 1798, "color": "#b89bc7", "opacity": 1, "strokeWidth": 0},
    "encoding": {"x": {"field": "a", "type": "quantitative", "axis": null}, "y": {"field": "d", "type": "quantitative", "axis": null}}},
   {"data": {"values": [{"a": 33.75, "d": 3.736}, {"a": 2.88, "d": 4.72}]}, "mark": {"type": "point", "shape": "M 0 -1 L 0.42 -0.28 L 0.1 -0.28 L 0.1 1 L -0.1 1 L -0.1 -0.28 L -0.42 -0.28 Z", "filled": true, "size": 4350, "color": "#40409f", "opacity": 1, "strokeWidth": 0},
    "encoding": {"x": {"field": "a", "type": "quantitative", "axis": null}, "y": {"field": "d", "type": "quantitative", "axis": null}}}
  ]
 }
]
}
